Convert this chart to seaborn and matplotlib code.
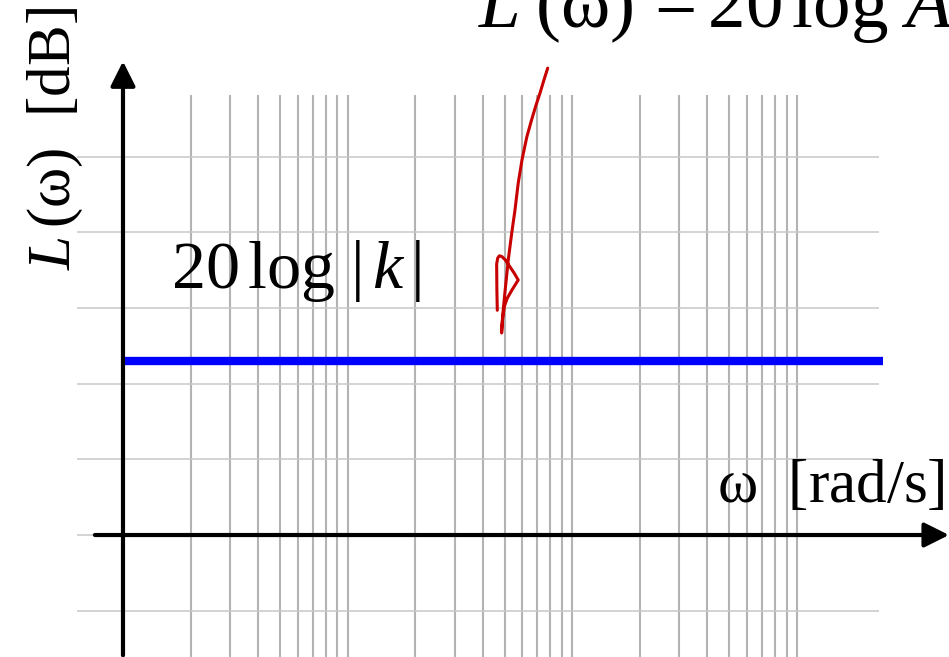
import numpy as np
import matplotlib
matplotlib.use("Agg")
import matplotlib.pyplot as plt
import seaborn as sns
import pandas as pd

# ---- data -------------------------------------------------------------
decades = [1, 10, 100]                      # start of each decade on the ω axis
multipliers = [2, 3, 4, 5, 6, 7, 8, 9, 10]  # log-grid lines inside a decade
db_grid = [-10, 0, 10, 20, 30, 40, 50]      # horizontal grid levels [dB]

gain_db = 23.0                              # 20 log|k|
gain_span = [1.0, 2413.0]                   # ω range of the flat gain line

# hand-drawn sketch of L(ω) = 20 log A
sketch_w = [46.4, 46.2, 46.1, 46.6, 47.4, 48.6, 50.2, 52.4, 55.2, 57.5,
            54.0, 51.4, 50.0, 49.2, 48.7, 48.5, 48.8, 49.4, 50.4, 51.9,
            53.8, 55.6, 57.5, 59.8, 62.8, 66.0, 69.0, 71.9, 74.8, 77.8]
sketch_db = [29.7, 32.5, 35.8, 36.6, 36.9, 36.8, 36.4, 35.6, 34.6, 33.7,
             32.4, 31.3, 30.3, 29.0, 27.6, 26.7, 28.2, 30.0, 32.6, 36.3,
             39.9, 42.9, 46.5, 49.6, 52.6, 54.9, 56.8, 58.4, 60.1, 61.7]

freq_grid = [d * m for d in decades for m in multipliers]

# ---- style ------------------------------------------------------------
sns.set_theme(style="white")
plt.rcParams["font.family"] = ["Liberation Serif", "DejaVu Serif"]
plt.rcParams["text.color"] = "black"
plt.rcParams["mathtext.fontset"] = "custom"
plt.rcParams["mathtext.rm"] = "Liberation Serif"
plt.rcParams["mathtext.it"] = "Liberation Serif:italic"
plt.rcParams["mathtext.bf"] = "Liberation Serif:bold"

fig = plt.figure(figsize=(9.49, 6.57), dpi=100)
ax = fig.add_axes([0, 0, 1, 1])
ax.set_xscale("log")

# log grid
ax.vlines(freq_grid, -16.12, 58.15, colors="#b3b3b3", lw=1.5, zorder=1)
ax.hlines(db_grid, 0.624, 2323, colors="#c8c8c8", lw=1.1, zorder=1)

# axes with arrows
arrow_kw = dict(arrowstyle="-|>,head_length=0.6,head_width=0.3",
                lw=3, color="black", mutation_scale=25, shrinkA=0, shrinkB=0)
ax.annotate("", xy=(1.0, 62.6), xytext=(1.0, -15.9),
            arrowprops=arrow_kw, zorder=4)
ax.annotate("", xy=(4761, 0), xytext=(0.75, 0),
            arrowprops=arrow_kw, zorder=4)

# flat gain line
gain_df = pd.DataFrame({"w": gain_span, "L": [gain_db, gain_db]})
sns.lineplot(data=gain_df, x="w", y="L", color="#0000ff", lw=6,
             solid_capstyle="butt", ax=ax, zorder=3)

# sketched magnitude curve
sketch_df = pd.DataFrame({"w": sketch_w, "L": sketch_db})
sns.lineplot(data=sketch_df, x="w", y="L", sort=False, estimator=None,
             color="#c80000", lw=2.2, ax=ax, zorder=3,
             solid_joinstyle="round", solid_capstyle="round")

ax.set_xlim(0.2834, 4761)
ax.set_ylim(-16.12, 70.70)
ax.axis("off")

# labels
fig.text(478 / 949, 1 - 27 / 657,
         r"$L\;(\mathrm{\omega})\,=20\,\log\,A$",
         fontsize=54, ha="left", va="baseline")
fig.text(171 / 949, 1 - 288 / 657, r"$20\,\log\,|\,k\,|$",
         fontsize=49, ha="left", va="baseline")
fig.text(945 / 949, 1 - 502 / 657, r"$\mathrm{\omega}$  [rad/s]",
         fontsize=44, ha="right", va="baseline")
fig.text(70 / 949, 1 - 270 / 657, r"$L\,(\mathrm{\omega})$  [dB]",
         fontsize=44, ha="left", va="baseline", rotation=90,
         rotation_mode="anchor")

fig.savefig("out.png", dpi=100)
